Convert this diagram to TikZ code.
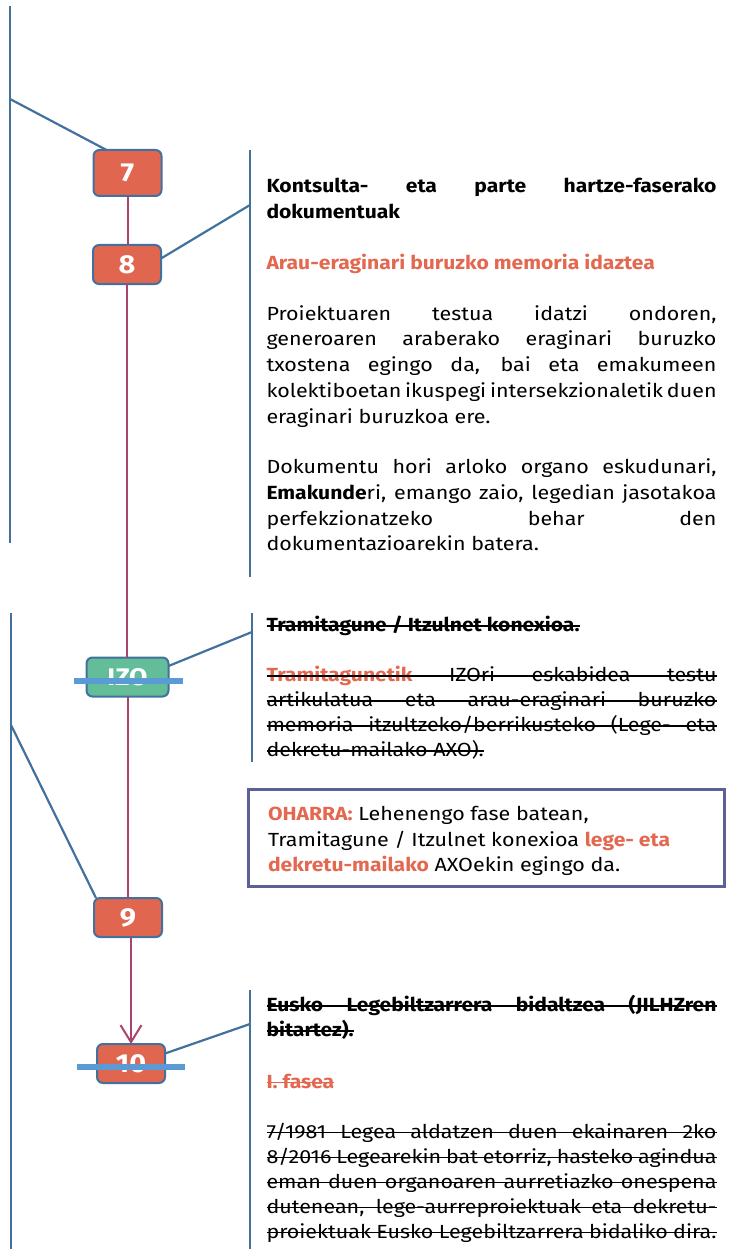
\documentclass[tikz,border=0pt]{standalone}
\usepackage{fontspec}
\setmainfont{Fira Sans}[
  UprightFeatures={FakeStretch=1.13},
  BoldFeatures={FakeStretch=1.11}]
\usetikzlibrary{arrows.meta}
\definecolor{ora}{RGB}{228,104,80}
\definecolor{nodefill}{RGB}{224,102,80}
\definecolor{bline}{RGB}{65,113,156}
\definecolor{mag}{RGB}{168,69,111}
\definecolor{grn}{RGB}{98,189,152}
\definecolor{sbar}{RGB}{91,155,213}
\definecolor{boxc}{RGB}{91,96,150}
\newcommand\jl[1]{\makebox[450pt][s]{#1}}
\newcommand\ob[1]{\textcolor{ora}{\bfseries #1}}
\newlength\twd
\begin{document}
\begin{tikzpicture}[x=1pt,y=-1pt,
  every node/.style={inner sep=0pt,outer sep=0pt},
  numbox/.style={draw=bline, line width=2pt, fill=nodefill, rounded corners=6pt,
    text=white, font=\fontsize{26}{26}\selectfont\bfseries,
    minimum width=68pt, minimum height=39pt},
  txt/.style={anchor=base west, font=\fontsize{19}{26}\selectfont, text=black},
  conn/.style={draw=bline, line width=2.2pt},
  flow/.style={draw=mag, line width=2pt},
  strike/.style={draw=black, line width=1.2pt},
  sbarst/.style={draw=sbar, line width=5.5pt},
]
\useasboundingbox (0,0) rectangle (728,1249);

% ---- step nodes
\node[numbox, minimum height=46pt] (n7) at (127.5,173) {7};
\node[numbox] (n8) at (127,264.5) {8};
\node[numbox, fill=grn, minimum width=82pt, font=\fontsize{24}{24}\selectfont\bfseries] (izo) at (127.5,677) {IZO};
\node[numbox] (n9) at (128,917.5) {9};
\node[numbox] (n10) at (131,1063.5) {10};

% ---- flow (magenta)
\draw[flow] (n7.south) -- (n7.south |- n8.north);
\draw[flow] (n8.south) -- (n8.south |- izo.north);
\draw[flow] (izo.south) -- (izo.south |- n9.north);
\draw[flow, -{Straight Barb[length=17pt,width=21pt]}] (n9.south -| n10) -- (n10.north);

% ---- blue brackets and connectors
\coordinate (l1t) at (10,6);   \coordinate (l1b) at (10,543);  \coordinate (l1j) at (10,99);
\coordinate (r1t) at (250,150); \coordinate (r1b) at (250,577); \coordinate (r1j) at (250,205);
\coordinate (l2t) at (11,613);  \coordinate (l2b) at (11,1249); \coordinate (l2j) at (11,725);
\coordinate (r2t) at (252,613); \coordinate (r2b) at (252,762); \coordinate (r2j) at (252,632);
\coordinate (r3t) at (250,990); \coordinate (r3b) at (250,1249); \coordinate (r3j) at (250,1024);
\draw[conn] (l1t) -- (l1b);
\draw[conn] (r1t) -- (r1b);
\draw[conn] (l2t) -- (l2b);
\draw[conn] (r2t) -- (r2b);
\draw[conn] (r3t) -- (r3b);
\draw[conn] (l1j) -- ([xshift=13pt]n7.north west);
\draw[conn] ([yshift=6pt]n8.east) -- (r1j);
\draw[conn] ([yshift=11pt]izo.east) -- (r2j);
\draw[conn] (l2j) -- ([xshift=2pt]n9.north west);
\draw[conn] ([yshift=10pt]n10.east) -- (r3j);

% ---- strike bars on IZO and 10
\draw[sbarst] ([xshift=-13pt,yshift=-4pt]izo.west) -- ([xshift=14pt,yshift=-4pt]izo.east);
\draw[sbarst] ([xshift=-20pt,yshift=-3.5pt]n10.west) -- ([xshift=20pt,yshift=-3.5pt]n10.east);

% ---- block 1
\node[txt] (h1a) at (266.5,192.7) {\jl{\bfseries Kontsulta- eta parte hartze-faserako}};
\node[txt] (h1b) at (266.5,218.3) {\bfseries dokumentuak};
\node[txt] (h1c) at (266.5,269.3) {\ob{Arau-eraginari buruzko memoria idaztea}};
\node[txt] (p1a) at (266.5,320.0) {\jl{Proiektuaren testua idatzi ondoren,}};
\node[txt] (p1b) at (266.5,345.8) {\jl{generoaren araberako eraginari buruzko}};
\node[txt] (p1c) at (266.5,371.6) {\jl{txostena egingo da, bai eta emakumeen}};
\node[txt] (p1d) at (266.5,397.4) {\jl{kolektiboetan ikuspegi intersekzionaletik duen}};
\node[txt] (p1e) at (266.5,423.2) {eraginari buruzkoa ere.};
\node[txt] (p2a) at (266.5,473.5) {\jl{Dokumentu hori arloko organo eskudunari,}};
\node[txt] (p2b) at (266.5,499.3) {\jl{\textbf{Emakunde}ri, emango zaio, legedian jasotakoa}};
\node[txt] (p2c) at (266.5,525.1) {\jl{perfekzionatzeko behar den}};
\node[txt] (p2d) at (266.5,550.9) {dokumentazioarekin batera.};

% ---- block 2 (struck)
\node[txt] (h2a) at (266.5,631.7) {\bfseries Tramitagune / Itzulnet konexioa.};
\node[txt] (p3a) at (266.5,681.7) {\jl{\ob{Tramitagunetik} IZOri eskabidea testu}};
\node[txt] (p3b) at (266.5,706.7) {\jl{artikulatua eta arau-eraginari buruzko}};
\node[txt] (p3c) at (266.5,731.7) {\jl{memoria itzultzeko/berrikusteko (Lege- eta}};
\node[txt] (p3d) at (266.5,756.7) {dekretu-mailako AXO).};
\foreach \n in {h2a,p3a,p3b,p3c,p3d}
  \draw[strike] ([yshift=5.7pt]\n.base west) -- ([yshift=5.7pt]\n.base east);
\settowidth{\twd}{\fontsize{19}{26}\selectfont\bfseries Tramitagunetik}
\draw[strike, draw=ora] ([yshift=5.7pt]p3a.base west) -- ++(\twd,0pt);

% ---- OHARRA box
\node[draw=boxc, line width=3pt, minimum width=476pt, minimum height=97pt, anchor=north west] (ohbox) at (248.5,789.5) {};
\node[txt] (o1) at (268,820) {\ob{OHARRA:} Lehenengo fase batean,};
\node[txt] (o2) at (268,846) {Tramitagune / Itzulnet konexioa \ob{lege- eta}};
\node[txt] (o3) at (268,871.7) {\ob{dekretu-mailako} AXOekin egingo da.};

% ---- block 3 (struck)
\node[txt] (h3a) at (266.5,1011.7) {\jl{\bfseries Eusko Legebiltzarrera bidaltzea (JILHZren}};
\node[txt] (h3b) at (266.5,1036.7) {\bfseries bitartez).};
\node[txt] (h3c) at (266.5,1088.3) {\ob{I. fasea}};
\node[txt] (p4a) at (266.5,1138.3) {\jl{7/1981 Legea aldatzen duen ekainaren 2ko}};
\node[txt] (p4b) at (266.5,1163.3) {\jl{8/2016 Legearekin bat etorriz, hasteko agindua}};
\node[txt] (p4c) at (266.5,1188.3) {\jl{eman duen organoaren aurretiazko onespena}};
\node[txt] (p4d) at (266.5,1213.3) {\jl{dutenean, lege-aurreproiektuak eta dekretu-}};
\node[txt] (p4e) at (266.5,1238.3) {\jl{proiektuak Eusko Legebiltzarrera bidaliko dira.}};
\foreach \n in {h3a,h3b,p4a,p4b,p4c,p4d,p4e}
  \draw[strike] ([yshift=5.7pt]\n.base west) -- ([yshift=5.7pt]\n.base east);
\draw[strike, draw=ora] ([yshift=5.7pt]h3c.base west) -- ([yshift=5.7pt]h3c.base east);
\end{tikzpicture}
\end{document}
